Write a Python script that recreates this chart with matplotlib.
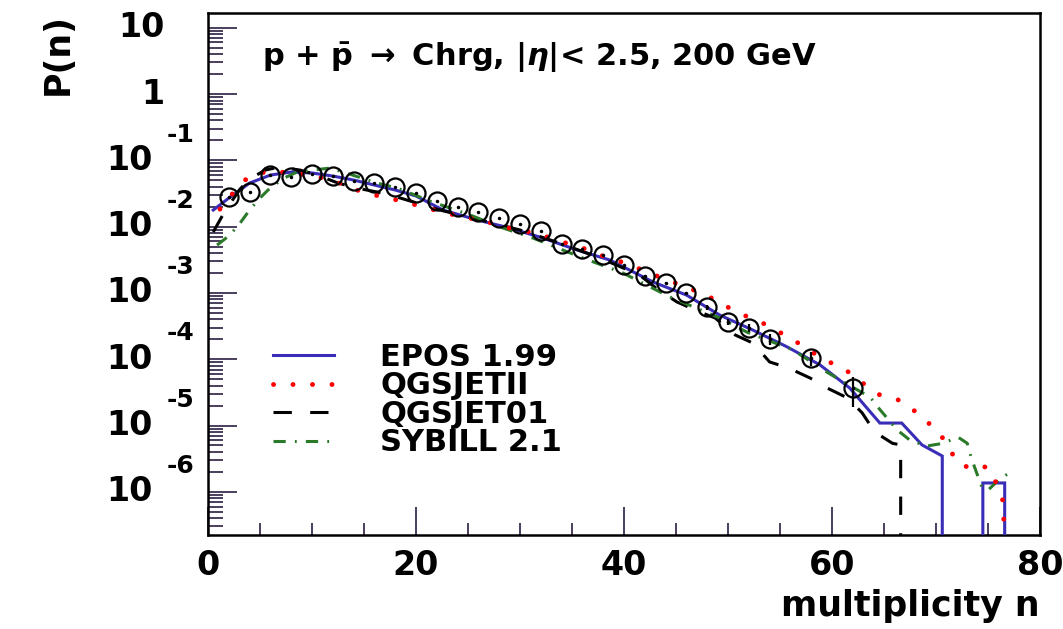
import numpy as np
import matplotlib
matplotlib.use("Agg")
import matplotlib.pyplot as plt
from matplotlib.ticker import MultipleLocator, LogLocator, NullFormatter

plt.rcParams['font.family'] = ['DejaVu Sans']
plt.rcParams['font.weight'] = 'bold'
plt.rcParams['mathtext.fontset'] = 'dejavusans'

# data points (open circles)
data_n = [2, 4, 6, 8, 10, 12, 14, 16, 18, 20, 22, 24, 26, 28, 30, 32, 34, 36, 38, 40,
          42, 44, 46, 48, 50, 52, 54, 58, 62]
data_p = [0.028, 0.0333, 0.060, 0.056, 0.062, 0.058, 0.0488, 0.0455, 0.0395, 0.0321,
          0.0243, 0.0198, 0.0166, 0.0135, 0.0109, 0.0086, 0.00547, 0.00459, 0.00373, 0.00264,
          0.0018, 0.00141, 0.000995, 0.000612, 0.000364, 0.000296, 0.000202, 0.000104, 3.68e-5]
data_err = [0.0003, 0.0003, 0.0004, 0.0004, 0.0004, 0.0004, 0.0003, 0.0003, 0.0003, 0.0002,
            0.0002, 0.0002, 0.0001, 0.0001, 0.0001, 0.0001, 0.00006, 0.00005, 0.00005, 0.00004,
            0.00004, 0.00004, 0.00005, 0.00005, 0.00004, 0.00004, 0.00004, 0.000024, 1.8e-5]

# EPOS 1.99
epos_n = [0.5, 2.0, 4.0, 6.0, 8.0, 10.0, 12.0, 14.0, 16.0, 18.0, 20.0, 22.6, 25.9, 29.0,
          32.2, 35.5, 38.65, 42.8, 46.0, 49.2, 52.4, 55.7, 58.85, 61.7, 64.6, 66.7, 68.65,
          70.6, 70.6, 74.5, 74.5, 76.6, 76.6]
epos_p = [0.0178, 0.027, 0.0455, 0.060, 0.0667, 0.0645, 0.058, 0.0505, 0.0424, 0.0357,
          0.029, 0.0178, 0.0126, 0.00955, 0.00673, 0.00444, 0.00313, 0.00146, 9.3e-4, 4.64e-4,
          2.75e-4, 1.53e-4, 8.2e-5, 3.68e-5, 1.09e-5, 1.09e-5, 5.1e-6, 3.47e-6, 1e-9,
          1e-9, 1.36e-6, 1.36e-6, 1e-9]

# QGSJETII
qgs2_n = [1.15, 2.4, 3.85, 5.77, 8.08, 10.3, 12.4, 14.3, 16.4, 18.65, 20.7, 22.9, 25.1,
          27.3, 29.3, 31.5, 33.75, 35.8, 37.7, 39.8, 41.8, 43.9, 45.96, 47.9, 49.8, 51.7,
          53.75, 55.6, 57.4, 59.1, 61.06, 62.7, 64.3, 66.5, 68.2, 69.7, 71.1, 71.9, 73.4,
          74.9, 75.9, 76.5, 76.6]
qgs2_p = [0.0184, 0.0321, 0.056, 0.069, 0.0643, 0.058, 0.0471, 0.0357, 0.029, 0.0243,
          0.0198, 0.016, 0.0135, 0.0113, 0.0092, 0.0080, 0.00607, 0.00492, 0.00373, 0.00292,
          0.00221, 0.00162, 0.00123, 9.3e-4, 6.3e-4, 4.5e-4, 3.28e-4, 2.24e-4, 1.53e-4,
          1.0e-4, 7.4e-5, 4.7e-5, 3.0e-5, 2.4e-5, 1.55e-5, 9.5e-6, 5.4e-6, 2.9e-6, 2.2e-6,
          2.4e-6, 1.27e-6, 6.8e-7, 1e-9]

# QGSJET01
qgs1_n = [0.5, 1.63, 3.08, 4.0, 5.5, 6.9, 8.85, 10.5, 12.5, 14.3, 16.25, 18.5, 22.3, 26.2,
          30.0, 33.8, 37.7, 41.5, 43.3, 45.1, 47.3, 48.75, 50.7, 52.4, 54.0, 55.8, 57.9,
          59.5, 61.5, 62.9, 64.1, 65.8, 66.6, 66.6]
qgs1_p = [0.0083, 0.0172, 0.0369, 0.0522, 0.0714, 0.0792, 0.0714, 0.060, 0.0455, 0.0382,
          0.0333, 0.027, 0.0178, 0.0126, 0.0089, 0.00566, 0.00336, 0.00186, 0.00111, 7.3e-4,
          5.15e-4, 4.2e-4, 2.32e-4, 1.75e-4, 9.1e-5, 7.4e-5, 5.2e-5, 3.7e-5, 2.6e-5, 1.55e-5,
          8.0e-6, 5.4e-6, 5.1e-6, 1e-9]

# SYBILL 2.1
sib_n = [0.87, 2.1, 3.08, 3.85, 4.8, 5.96, 7.3, 8.56, 10.1, 11.7, 13.0, 13.9, 16.25, 18.2,
         21.6, 25.2, 28.1, 31.25, 35.8, 39.9, 44.4, 49.2, 51.8, 56.25, 59.5, 61.7, 63.65,
         64.4, 66.25, 67.5, 69.1, 70.7, 72.1, 73.0, 73.4, 74.4, 75.0, 76.0, 77.3]
sib_p = [0.00527, 0.00747, 0.0113, 0.0166, 0.0252, 0.0382, 0.054, 0.0667, 0.0714, 0.0765,
         0.0667, 0.060, 0.0455, 0.0382, 0.0235, 0.0150, 0.00986, 0.00673, 0.00348, 0.0020,
         8.7e-4, 4.2e-4, 2.57e-4, 1.38e-4, 6.4e-5, 4.0e-5, 2.7e-5, 1.9e-5, 8.6e-6, 6.0e-6,
         4.9e-6, 5.4e-6, 6.7e-6, 5.4e-6, 3.2e-6, 1.18e-6, 1.06e-6, 1.5e-6, 2.06e-6]

decades = [1, 0, -1, -2, -3, -4, -5, -6]

fig = plt.figure(figsize=(10.63, 6.29), dpi=100)
ax = fig.add_axes([0.1957, 0.1494, 0.7827, 0.8299])

ax.plot(epos_n, epos_p, color='#3a2db8', lw=2.2, solid_joinstyle='miter', label='EPOS 1.99', zorder=3)
ax.plot(qgs2_n, qgs2_p, color='#ff0000', lw=3.5, linestyle=(0, (0.01, 4)),
        dash_capstyle='round', label='QGSJETII', zorder=4)
ax.plot(qgs1_n, qgs1_p, color='black', lw=2.2, linestyle=(0, (6, 6)), label='QGSJET01', zorder=3)
ax.plot(sib_n, sib_p, color='#2a7a2a', lw=2.2, linestyle=(0, (4, 3, 0.6, 3)),
        label='SYBILL 2.1', zorder=3)
ax.errorbar(data_n, data_p, yerr=data_err, fmt='o', mfc='none', mec='black', ms=13,
            mew=1.6, ecolor='black', elinewidth=1.6, capsize=0, zorder=5)
ax.plot(data_n, data_p, 'o', color='black', ms=1.5, zorder=6)

ax.set_yscale('log')
ax.set_xlim(0, 80)
ax.set_ylim(2.23e-7, 16.7)

ax.xaxis.set_major_locator(MultipleLocator(20))
ax.xaxis.set_minor_locator(MultipleLocator(5))
ax.yaxis.set_major_locator(LogLocator(base=10, numticks=20))
ax.yaxis.set_minor_locator(LogLocator(base=10, subs=np.arange(2, 10), numticks=20))
ax.yaxis.set_minor_formatter(NullFormatter())
ax.tick_params(axis='both', which='both', direction='in', top=False, right=False,
               color='#3c3050', width=1.3)
ax.tick_params(axis='x', which='major', length=20, labelsize=24, pad=10)
ax.tick_params(axis='x', which='minor', length=9)
ax.tick_params(axis='y', which='major', length=21, labelleft=False)
ax.tick_params(axis='y', which='minor', length=11)
for s in ax.spines.values():
    s.set_linewidth(1.8)
    s.set_color('black')

# ROOT-style decade labels
ytr = ax.get_yaxis_transform()
for k in decades:
    if k >= 0:
        ax.text(-0.052, 10.0 ** k, str(10 ** k), transform=ytr, ha='right', va='center',
                fontsize=24, fontweight='bold')
    else:
        ax.text(-0.066, 10.0 ** k, '10', transform=ytr, ha='right', va='center',
                fontsize=24, fontweight='bold')
        ax.text(-0.050, 10.0 ** (k + 0.39), str(k), transform=ytr, ha='left', va='center',
                fontsize=18, fontweight='bold')

ax.set_xlabel('multiplicity n', fontsize=25, fontweight='bold', loc='right')
ax.xaxis.set_label_coords(1.0, -0.103)
ax.set_ylabel('P(n)', fontsize=25, fontweight='bold', loc='top')
ax.yaxis.set_label_coords(-0.16, 1.0)

ax.text(0.065, 0.915, r'p + $\bar{\mathbf{p}}$ $\rightarrow$ Chrg, $|\eta|$< 2.5, 200 GeV',
        transform=ax.transAxes, fontsize=22, fontweight='bold', va='center', ha='left')

leg = ax.legend(loc='upper left', bbox_to_anchor=(0.06, 0.397), frameon=False, fontsize=22,
                handlelength=2.0, handletextpad=1.5, labelspacing=-0.02, borderpad=0)

fig.savefig('out.png', dpi=100)
